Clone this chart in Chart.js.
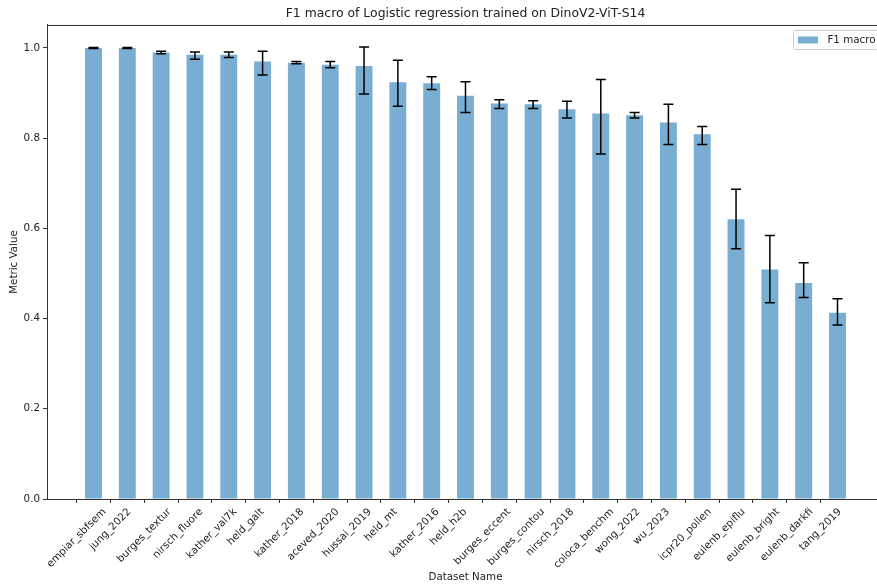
<!DOCTYPE html>
<html>
<head>
<meta charset="utf-8">
<script src="https://cdn.jsdelivr.net/npm/chart.js@4"></script>
<style>
  html, body { margin: 0; padding: 0; background: #fff; overflow: hidden; }
  #wrap { width: 900px; height: 584px; }
</style>
</head>
<body>
<div id="wrap"><canvas id="f1-chart" width="900" height="584"></canvas></div>
<script>
// data
const categories = ['empiar_sbfsem', 'jung_2022', 'burges_textur', 'nirsch_fluore', 'kather_val7k', 'held_galt',
    'kather_2018', 'aceved_2020', 'hussai_2019', 'held_mt', 'kather_2016', 'held_h2b', 'burges_eccent',
    'burges_contou', 'nirsch_2018', 'coloca_benchm', 'wong_2022', 'wu_2023', 'icpr20_pollen',
    'eulenb_epiflu', 'eulenb_bright', 'eulenb_darkfi', 'tang_2019'];
const f1Macro = [1.000, 1.000, 0.990, 0.985, 0.985, 0.970, 0.967, 0.963, 0.960, 0.924, 0.922, 0.894, 0.877,
    0.875, 0.864, 0.855, 0.851, 0.835, 0.809, 0.620, 0.509, 0.479, 0.413];
const errLow = [0.999, 0.999, 0.987, 0.975, 0.979, 0.940, 0.965, 0.956, 0.898, 0.871, 0.908, 0.857, 0.866,
    0.866, 0.845, 0.765, 0.845, 0.786, 0.786, 0.555, 0.435, 0.447, 0.386];
const errHigh = [1.001, 1.001, 0.993, 0.991, 0.991, 0.993, 0.970, 0.970, 1.002, 0.973, 0.936, 0.925, 0.885,
    0.883, 0.882, 0.930, 0.857, 0.875, 0.826, 0.687, 0.584, 0.524, 0.444];
const yTickValues = [0, 0.2, 0.4, 0.6, 0.8, 1.0];
const seriesLabel = 'F1 macro';

const FONT = "'DejaVu Sans', sans-serif";
const barColor = 'rgba(31, 119, 180, 0.6)';
const spineColor = '#333';
const smallSize = 10.3;

Chart.defaults.font.family = FONT;
Chart.defaults.color = '#222';

// error bars, rotated tick labels (centred like matplotlib), legend and top spine
const extrasPlugin = {
    id: 'extras',
    afterDatasetsDraw(chart) {
        const { ctx, scales: { x, y } } = chart;
        ctx.save();
        ctx.strokeStyle = '#000';
        ctx.lineWidth = 1.5;
        errLow.forEach((lo, i) => {
            const px = x.getPixelForValue(i + 0.5);
            const yLo = y.getPixelForValue(lo);
            const yHi = y.getPixelForValue(errHigh[i]);
            ctx.beginPath();
            ctx.moveTo(px, yLo); ctx.lineTo(px, yHi);
            ctx.moveTo(px - 5, yLo); ctx.lineTo(px + 5, yLo);
            ctx.moveTo(px - 5, yHi); ctx.lineTo(px + 5, yHi);
            ctx.stroke();
        });
        ctx.restore();
    },
    afterDraw(chart) {
        const { ctx, chartArea, scales: { x } } = chart;
        ctx.save();

        // top spine
        ctx.strokeStyle = spineColor;
        ctx.lineWidth = 1;
        ctx.beginPath();
        ctx.moveTo(chartArea.left, chartArea.top + 0.5);
        ctx.lineTo(chartArea.right, chartArea.top + 0.5);
        ctx.stroke();

        // x tick labels, 45 deg, bbox centred on tick
        ctx.font = smallSize + 'px ' + FONT;
        ctx.fillStyle = '#222';
        ctx.textAlign = 'center';
        ctx.textBaseline = 'middle';
        const c = Math.SQRT1_2;
        const h = 12;
        const labelTop = chartArea.bottom + 7;
        categories.forEach((name, i) => {
            const w = ctx.measureText(name).width;
            const bboxH = w * c + h * c;
            const px = x.getPixelForValue(i);
            ctx.save();
            ctx.translate(px, labelTop + bboxH / 2);
            ctx.rotate(-Math.PI / 4);
            ctx.fillText(name, 0, 0);
            ctx.restore();
        });

        // legend, upper right inside axes
        const tw = ctx.measureText(seriesLabel).width;
        const boxW = 4 + 20 + 8 + tw + 5;
        const boxRight = chartArea.right - 5.5;
        const boxLeft = boxRight - boxW;
        const boxTop = chartArea.top + 5.5;
        const boxH = 19;
        ctx.beginPath();
        ctx.roundRect(boxLeft, boxTop, boxW, boxH, 2);
        ctx.fillStyle = 'rgba(255,255,255,0.8)';
        ctx.fill();
        ctx.strokeStyle = '#ccc';
        ctx.stroke();
        ctx.fillStyle = barColor;
        ctx.fillRect(boxLeft + 4.5, boxTop + 6, 20, 7);
        ctx.fillStyle = '#222';
        ctx.textAlign = 'left';
        ctx.fillText(seriesLabel, boxLeft + 34, boxTop + boxH / 2 + 0.5);

        ctx.restore();
    }
};

new Chart(document.getElementById('f1-chart'), {
    type: 'bar',
    data: {
        datasets: [{
            label: seriesLabel,
            data: f1Macro.map((v, i) => ({ x: i + 0.5, y: v })),
            backgroundColor: barColor,
            borderWidth: 0,
            categoryPercentage: 1,
            barPercentage: 0.5
        }]
    },
    options: {
        responsive: false,
        animation: false,
        layout: { padding: { left: 0, right: 16, top: 0, bottom: 0 } },
        plugins: {
            legend: { display: false },
            tooltip: { enabled: false },
            title: {
                display: true,
                fullSize: false,
                text: 'F1 macro of Logistic regression trained on DinoV2-ViT-S14',
                color: '#222',
                font: { size: 12.4, weight: 'normal', lineHeight: 1.2 },
                padding: { top: 6, bottom: 4.1 }
            }
        },
        scales: {
            x: {
                type: 'linear',
                min: -0.875,
                max: 23.875,
                offset: false,
                afterBuildTicks: (scale) => { scale.ticks = categories.map((_, i) => ({ value: i })); },
                afterFit: (scale) => { scale.height = 85; },
                ticks: { display: false },
                grid: { offset: false, drawOnChartArea: false, drawTicks: true, tickLength: 4, tickColor: spineColor },
                border: { display: true, color: spineColor, width: 1 },
                title: {
                    display: true,
                    text: 'Dataset Name',
                    color: '#222',
                    font: { size: smallSize, lineHeight: 1.2 },
                    padding: { top: 0, bottom: 0 }
                }
            },
            y: {
                min: 0,
                max: 1.051,
                afterBuildTicks: (scale) => { scale.ticks = yTickValues.map(v => ({ value: v })); },
                afterFit: (scale) => { scale.width = 47; },
                ticks: {
                    padding: 3,
                    color: '#222',
                    font: { size: smallSize },
                    callback: (v) => Number(v).toFixed(1)
                },
                grid: { drawOnChartArea: false, drawTicks: true, tickLength: 4, tickColor: spineColor },
                border: { display: true, color: spineColor, width: 1 },
                title: {
                    display: true,
                    text: 'Metric Value',
                    color: '#222',
                    font: { size: smallSize, lineHeight: 1.2 },
                    padding: { top: 8, bottom: 0 }
                }
            }
        }
    },
    plugins: [extrasPlugin]
});
</script>
</body>
</html>
